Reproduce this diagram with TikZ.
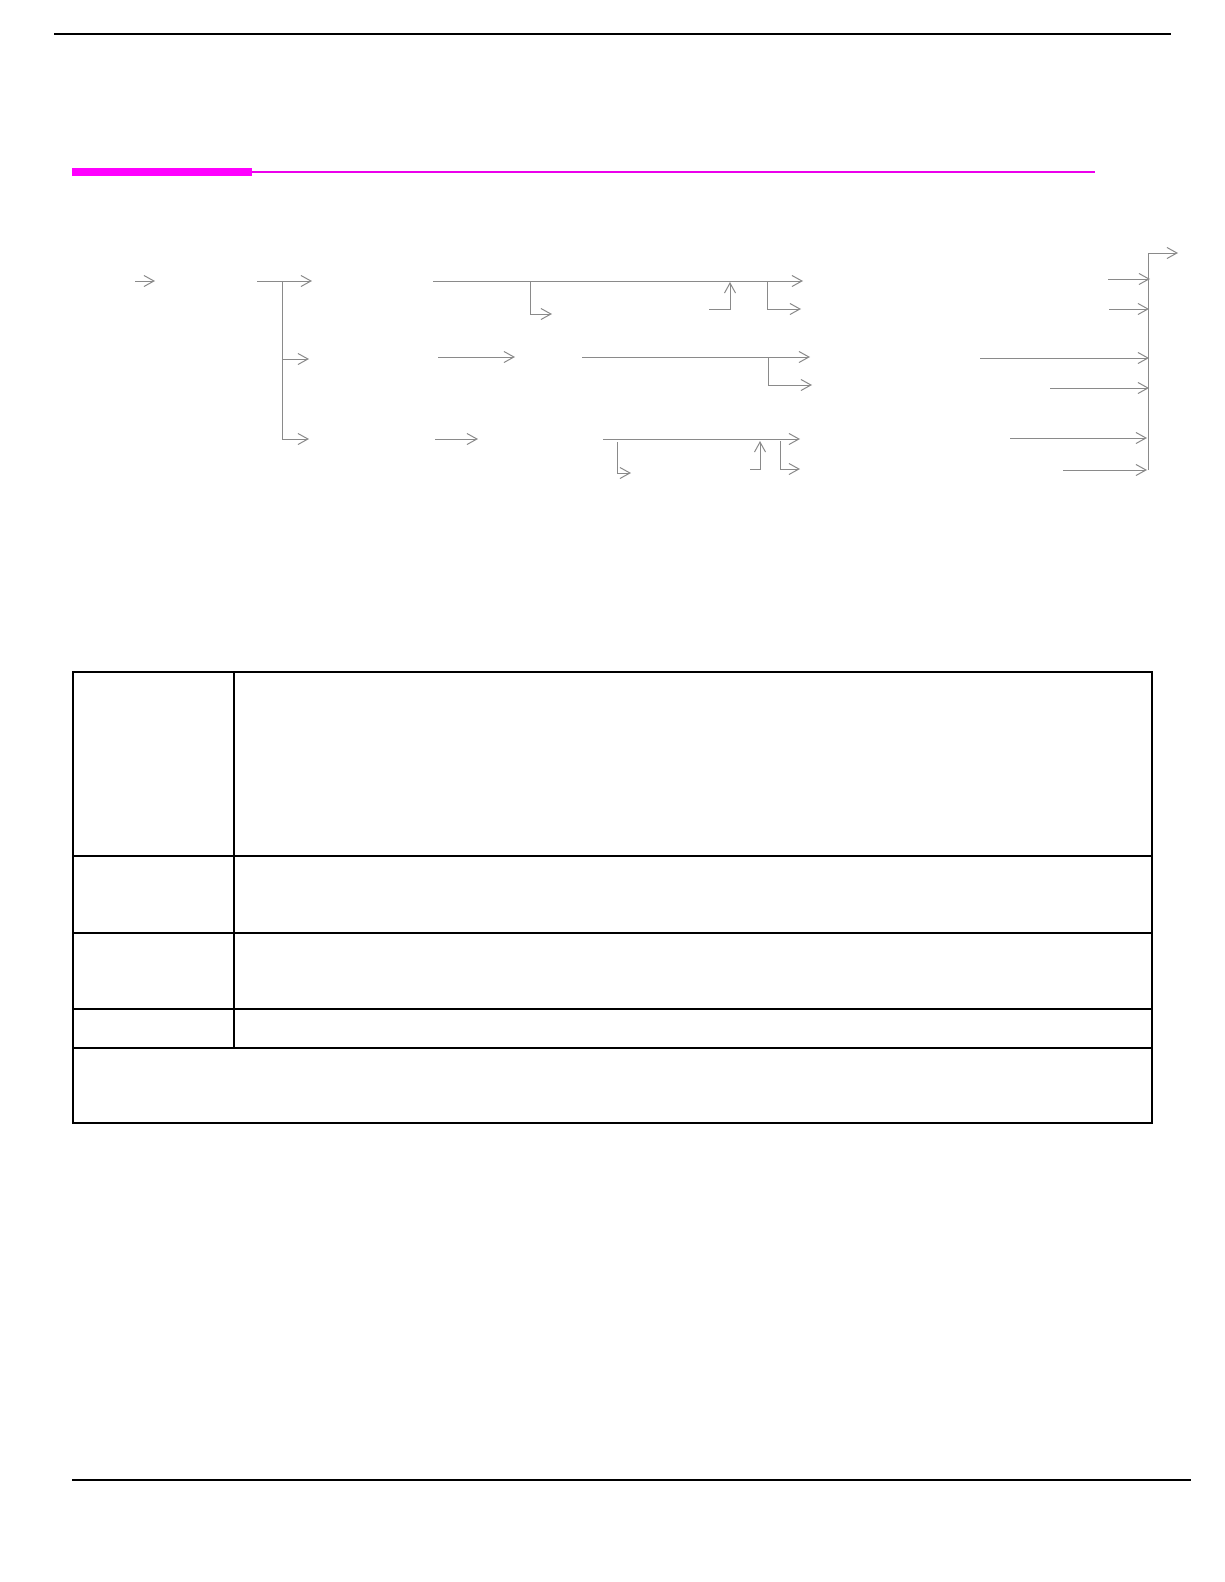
\documentclass[tikz,border=0pt]{standalone}
\usetikzlibrary{arrows.meta}
\definecolor{flowgray}{HTML}{8A8A8A}
\definecolor{hpmag}{HTML}{FF00FF}
\tikzset{
  flow/.style={draw=flowgray, line width=1pt, -{Straight Barb[length=10pt,width=11pt,line width=1pt]}},
  flowline/.style={draw=flowgray, line width=1pt},
  rule/.style={draw=black, line width=1.3pt},
  tab/.style={draw=black, line width=1.6pt},
}
\begin{document}
\begin{tikzpicture}[x=1pt,y=-1pt]
\useasboundingbox (0,0) rectangle (1224,1582);
% page rules
\coordinate (t1) at (54,34); \coordinate (t2) at (1171,34);
\draw[rule] (t1) -- (t2);
\coordinate (b1) at (72,1480); \coordinate (b2) at (1191,1480);
\draw[rule] (b1) -- (b2);
% magenta heading rule
\coordinate (m1) at (72,172); \coordinate (m2) at (252,172); \coordinate (m3) at (1095,172);
\fill[hpmag] (72,168) rectangle (252,176);
\draw[hpmag!85!violet, line width=2pt] (m2) -- (m3);

% ---- flow diagram ----
% input arrow
\coordinate (in0) at (135,281); \coordinate (in1) at (155,281);
\draw[flow] (in0) -- (in1);
% splitter
\coordinate (s0) at (257,281); \coordinate (sv) at (282,281);
\coordinate (sA) at (312,281);
\coordinate (sB0) at (282,359); \coordinate (sB) at (309,359);
\coordinate (sC0) at (282,439); \coordinate (sC) at (309,439);
\draw[flow] (s0) -- (sA);
\draw[flowline] (sv) -- (sC0);
\draw[flow] (sB0) -- (sB);
\draw[flow] (sC0) -- (sC);

% row 1
\coordinate (r1a) at (433,281); \coordinate (r1b) at (803,281);
\draw[flow] (r1a) -- (r1b);
\coordinate (r1d0) at (530,281); \coordinate (r1d1) at (530,314); \coordinate (r1d2) at (552,314);
\draw[flow] (r1d0) -- (r1d1) -- (r1d2);
\coordinate (r1u0) at (709,309); \coordinate (r1u1) at (730,309); \coordinate (r1u2) at (730,282);
\draw[flow] (r1u0) -- (r1u1) -- (r1u2);
\coordinate (r1e0) at (767,281); \coordinate (r1e1) at (767,309); \coordinate (r1e2) at (801,309);
\draw[flow] (r1e0) -- (r1e1) -- (r1e2);

% row 2
\coordinate (r2a) at (438,357); \coordinate (r2b) at (515,357);
\draw[flow] (r2a) -- (r2b);
\coordinate (r2c) at (582,357); \coordinate (r2d) at (810,357);
\draw[flow] (r2c) -- (r2d);
\coordinate (r2e0) at (768,357); \coordinate (r2e1) at (768,385); \coordinate (r2e2) at (812,385);
\draw[flow] (r2e0) -- (r2e1) -- (r2e2);

% row 3
\coordinate (r3a) at (435,439); \coordinate (r3b) at (478,439);
\draw[flow] (r3a) -- (r3b);
\coordinate (r3c) at (603,439); \coordinate (r3d) at (800,439);
\draw[flow] (r3c) -- (r3d);
\coordinate (r3f0) at (617,442); \coordinate (r3f1) at (617,473); \coordinate (r3f2) at (631,473);
\draw[flow] (r3f0) -- (r3f1) -- (r3f2);
\coordinate (r3u0) at (750,469); \coordinate (r3u1) at (760,469); \coordinate (r3u2) at (760,441);
\draw[flow] (r3u0) -- (r3u1) -- (r3u2);
\coordinate (r3e0) at (780,441); \coordinate (r3e1) at (780,469); \coordinate (r3e2) at (800,469);
\draw[flow] (r3e0) -- (r3e1) -- (r3e2);

% right-hand collector
\coordinate (cTop) at (1148,253); \coordinate (cBot) at (1148,470); \coordinate (cOut) at (1178,253);
\draw[flowline] (cBot) -- (cTop);
\draw[flow] (cTop) -- (cOut);
\coordinate (q1) at (1108,279); \coordinate (q1e) at (1150,279);
\coordinate (q2) at (1109,309); \coordinate (q2e) at (1149,309);
\coordinate (q3) at (980,358); \coordinate (q3e) at (1149,358);
\coordinate (q4) at (1050,388); \coordinate (q4e) at (1149,388);
\coordinate (q5) at (1010,438); \coordinate (q5e) at (1147,438);
\coordinate (q6) at (1063,470); \coordinate (q6e) at (1147,470);
\foreach \a/\b in {q1/q1e,q2/q2e,q3/q3e,q4/q4e,q5/q5e,q6/q6e}
  \draw[flow] (\a) -- (\b);

% ---- table ----
\coordinate (TL) at (73,672); \coordinate (BR) at (1152,1123);
\draw[tab] (TL) rectangle (BR);
\coordinate (dv0) at (234,672); \coordinate (dv1) at (234,1048);
\draw[tab] (dv0) -- (dv1);
\foreach \yy [count=\i] in {856,933,1009,1048}{
  \coordinate (hl\i) at (73,\yy); \coordinate (hr\i) at (1152,\yy);
  \draw[tab] (hl\i) -- (hr\i);
}
\end{tikzpicture}
\end{document}
